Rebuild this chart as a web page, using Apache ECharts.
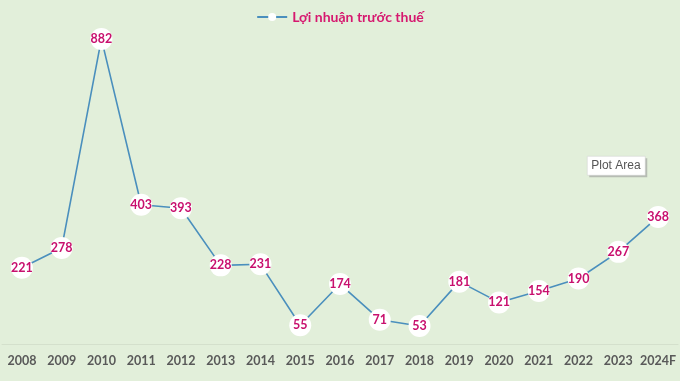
<!DOCTYPE html>
<html><head><meta charset="utf-8">
<script src="https://cdn.jsdelivr.net/npm/echarts@6/dist/echarts.min.js"></script>
<style>html,body{margin:0;padding:0;background:#e2efda;}#c{width:680px;height:381px;}</style>
</head><body><div id="c"></div>
<script>
var categories = ['2008','2009','2010','2011','2012','2013','2014','2015','2016','2017','2018','2019','2020','2021','2022','2023','2024F'];
var profit = [221,278,882,403,393,228,231,55,174,71,53,181,121,154,190,267,368];
var seriesName = 'Lợi nhuận trước thuế';

var chart = echarts.init(document.getElementById('c'));
chart.setOption({
  backgroundColor: '#e2efda',
  animation: false,
  legend: {
    top: 5, left: 'center',
    itemWidth: 30, itemHeight: 10,
    textStyle: {color: '#d6186f', fontWeight: 'bold', fontSize: 14, fontFamily: 'Lato, "Open Sans", sans-serif'},
    data: [seriesName]
  },
  grid: {left: 2, right: 2, top: 32.7, bottom: 36.7},
  xAxis: {
    type: 'category', data: categories, boundaryGap: true,
    axisLine: {show: true, lineStyle: {color: '#d4e0cc', width: 1}},
    axisTick: {show: false},
    axisLabel: {color: '#595959', fontWeight: 'bold', fontSize: 12.5, fontFamily: 'Lato, "Open Sans", sans-serif', margin: 10, interval: 0}
  },
  yAxis: {type: 'value', min: 0, max: 900, show: false, splitLine: {show: false}},
  series: [{
    name: seriesName, type: 'line', data: profit,
    symbol: 'circle', symbolSize: 22,
    itemStyle: {color: '#ffffff', borderColor: '#ffffff', borderWidth: 0},
    lineStyle: {color: '#4a8fbd', width: 1.6},
    label: {show: true, position: 'inside', color: '#c8106e', fontWeight: 'bold', fontSize: 12.5, fontFamily: 'Lato, "Open Sans", sans-serif'}
  }],
  graphic: [{
    type: 'group', left: 587, top: 156,
    children: [
      {type: 'rect', shape: {x: 2, y: 2, width: 58, height: 19}, style: {fill: '#9a9a9a', opacity: 0.6}},
      {type: 'rect', shape: {x: 0, y: 0, width: 58, height: 19}, style: {fill: '#ffffff', stroke: '#cfcfcf', lineWidth: 0.5}},
      {type: 'text', x: 4, y: 3, style: {text: 'Plot Area', fill: '#555555', fontSize: 12, fontFamily: '"Liberation Sans", sans-serif'}}
    ]
  }]
});
</script></body></html>
